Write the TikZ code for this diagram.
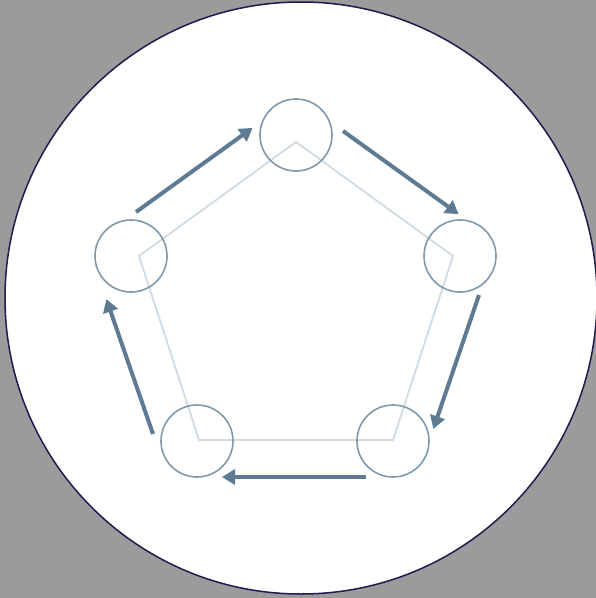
\documentclass[tikz,border=0pt]{standalone}
\usetikzlibrary{arrows.meta}
\definecolor{bggray}{HTML}{9B9B9B}
\definecolor{navy}{HTML}{1F1A4F}
\definecolor{arrowblue}{HTML}{5F7B93}
\definecolor{ringblue}{HTML}{7F99AB}
\definecolor{pentagray}{HTML}{D0DBE3}
\tikzset{
  ring/.style={circle, draw=ringblue, line width=1.6pt, minimum size=72pt, inner sep=0pt},
  flow/.style={draw=arrowblue, line width=4pt, -{Triangle[length=13pt,width=15pt]}, shorten >=-2pt},
  pent/.style={draw=pentagray, line width=1.8pt, line join=miter}
}
\begin{document}
\begin{tikzpicture}[x=1pt,y=-1pt]
\fill[bggray] (0,0) rectangle (596,598);
\useasboundingbox (0,0) rectangle (596,598);
\fill[white] (301,298) circle (296);
\draw[navy, line width=1.5pt] (301,298) circle (296);
% pentagon
\coordinate (p1) at (296,142);
\coordinate (p2) at (453,256);
\coordinate (p3) at (393,440);
\coordinate (p4) at (199,440);
\coordinate (p5) at (139,256);
\draw[pent] (p1) -- (p2) -- (p3) -- (p4) -- (p5) -- cycle;
% circles
\node[ring] (c1) at (296,135) {};
\node[ring] (c2) at (460,256) {};
\node[ring] (c3) at (393,441) {};
\node[ring] (c4) at (197,441) {};
\node[ring] (c5) at (131,256) {};
% arrow endpoints
\coordinate (a1s) at (136,212);
\coordinate (a1e) at (251,129);
\coordinate (a2s) at (343,131);
\coordinate (a2e) at (457,213);
\coordinate (a3s) at (479,295);
\coordinate (a3e) at (434,427);
\coordinate (a4s) at (366,477);
\coordinate (a4e) at (224,477);
\coordinate (a5s) at (153,434);
\coordinate (a5e) at (107,301);
\draw[flow] (a1s) -- (a1e);
\draw[flow] (a2s) -- (a2e);
\draw[flow] (a3s) -- (a3e);
\draw[flow] (a4s) -- (a4e);
\draw[flow] (a5s) -- (a5e);
\end{tikzpicture}
\end{document}
